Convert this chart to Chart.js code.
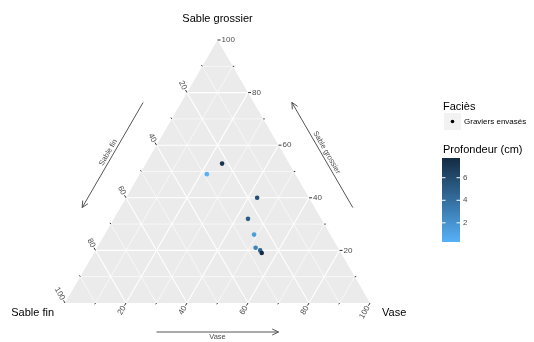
<!DOCTYPE html>
<html>
<head>
<meta charset="utf-8">
<script src="https://cdn.jsdelivr.net/npm/chart.js@4.4.1/dist/chart.umd.min.js"></script>
<style>
  body { margin: 0; background: #fff; }
  #wrap { width: 534px; height: 342px; position: relative; }
</style>
</head>
<body>
<div id="wrap"><canvas id="tern"></canvas></div>
<script>
// Compositions (%)
const sableFin      = [22, 29, 17, 24, 25, 27, 26, 26];
const sableGrossier = [53, 49, 40, 32, 26, 21, 20, 19];
const vase          = [25, 22, 43, 44, 49, 52, 54, 55];
const profondeur    = [7.2, 0.3, 5.8, 5.0, 1.4, 2.8, 4.6, 7.75];

const majorTicks = [20, 40, 60, 80, 100];
const minorTicks = [10, 30, 50, 70, 90];
const gridLevels = [10, 20, 30, 40, 50, 60, 70, 80, 90];
const depthTicks = [2, 4, 6];

const H = Math.sqrt(3) / 2;
const LOW = [0x56, 0xB1, 0xF7], HIGH = [0x13, 0x2B, 0x43];
const dMin = Math.min(...profondeur), dMax = Math.max(...profondeur);
const FONT = '"Liberation Sans", Arial, sans-serif';

// ternary -> cartesian (fin at left corner, vase at right, grossier on top)
function toXY(f, g, v) {
  const s = f + g + v;
  return {x: (v + g / 2) / s, y: (g / s) * H};
}

function depthColor(d) {
  const t = (d - dMin) / (dMax - dMin);
  const c = LOW.map((lo, i) => Math.round(lo + (HIGH[i] - lo) * t));
  return `rgb(${c[0]},${c[1]},${c[2]})`;
}

const points = vase.map((v, i) => toXY(sableFin[i], sableGrossier[i], v));

// grid lines as line datasets
const gridSets = [];
gridLevels.forEach(l => {
  const p = l / 100, q = 1 - p;
  const major = l % 20 === 0;
  const segs = [
    [toXY(q, p, 0), toXY(0, p, q)],   // constant grossier
    [toXY(q, 0, p), toXY(0, q, p)],   // constant vase
    [toXY(p, q, 0), toXY(p, 0, q)]    // constant fin
  ];
  segs.forEach(s => gridSets.push({
    type: 'scatter', data: s, showLine: true, pointRadius: 0,
    borderColor: '#FFFFFF', borderWidth: major ? 1.1 : 0.6,
    order: 2, clip: false
  }));
});

const ternaryPlugin = {
  id: 'ternaryDecor',
  afterDatasetsDraw(chart) {
    const {ctx, scales: {x, y}} = chart;
    const px = p => ({x: x.getPixelForValue(p.x), y: y.getPixelForValue(p.y)});
    ctx.save();

    // ticks + tick labels
    const edges = [
      {pt: t => toXY(0, t, 1 - t), dir: [1, 0], rot: 0, align: 'left'},            // grossier (right edge)
      {pt: t => toXY(t, 1 - t, 0), dir: [-0.5, -H], rot: Math.PI / 3, align: 'right'}, // fin (left edge)
      {pt: t => toXY(1 - t, 0, t), dir: [-0.5, H], rot: -Math.PI / 3, align: 'right'}  // vase (bottom)
    ];
    ctx.strokeStyle = '#333333';
    ctx.lineWidth = 1;
    edges.forEach(e => {
      minorTicks.forEach(t => {
        const a = px(e.pt(t / 100));
        ctx.beginPath();
        ctx.moveTo(a.x, a.y);
        ctx.lineTo(a.x + e.dir[0] * 1.5, a.y + e.dir[1] * 1.5);
        ctx.stroke();
      });
      majorTicks.forEach(t => {
        const a = px(e.pt(t / 100));
        ctx.beginPath();
        ctx.moveTo(a.x, a.y);
        ctx.lineTo(a.x + e.dir[0] * 3, a.y + e.dir[1] * 3);
        ctx.stroke();
        ctx.save();
        ctx.translate(a.x + e.dir[0] * 4, a.y + e.dir[1] * 4);
        ctx.rotate(e.rot);
        ctx.fillStyle = '#4D4D4D';
        ctx.font = '8px ' + FONT;
        ctx.textAlign = e.align;
        ctx.textBaseline = 'middle';
        ctx.fillText(String(t), 0, 0);
        ctx.restore();
      });
    });

    // direction arrows, offset outside each edge
    function arrow(p0, p1, n, off, label, rot) {
      const a = px(p0), b = px(p1);
      a.x += n[0] * off; a.y += n[1] * off;
      b.x += n[0] * off; b.y += n[1] * off;
      ctx.strokeStyle = '#555555';
      ctx.lineWidth = 1;
      ctx.beginPath();
      ctx.moveTo(a.x, a.y);
      ctx.lineTo(b.x, b.y);
      const ang = Math.atan2(b.y - a.y, b.x - a.x);
      ctx.moveTo(b.x - 7 * Math.cos(ang - 0.45), b.y - 7 * Math.sin(ang - 0.45));
      ctx.lineTo(b.x, b.y);
      ctx.lineTo(b.x - 7 * Math.cos(ang + 0.45), b.y - 7 * Math.sin(ang + 0.45));
      ctx.stroke();
      ctx.save();
      ctx.translate((a.x + b.x) / 2 + n[0] * 5, (a.y + b.y) / 2 + n[1] * 5);
      ctx.rotate(rot);
      ctx.fillStyle = '#4D4D4D';
      ctx.font = '7.5px ' + FONT;
      ctx.textAlign = 'center';
      ctx.textBaseline = 'middle';
      ctx.fillText(label, 0, 0);
      ctx.restore();
    }
    arrow(toXY(0.3, 0.7, 0), toXY(0.7, 0.3, 0), [-H, -0.5], 33, 'Sable fin', -Math.PI / 3);
    arrow(toXY(0, 0.3, 0.7), toXY(0, 0.7, 0.3), [H, -0.5], 33, 'Sable grossier', Math.PI / 3);
    arrow(toXY(0.7, 0, 0.3), toXY(0.3, 0, 0.7), [0, 1], 29, 'Vase', 0);

    // corner titles
    ctx.fillStyle = '#000000';
    ctx.font = '11px ' + FONT;
    ctx.textBaseline = 'middle';
    const top = px(toXY(0, 1, 0)), bl = px(toXY(1, 0, 0)), br = px(toXY(0, 0, 1));
    ctx.textAlign = 'center';
    ctx.fillText('Sable grossier', top.x, top.y - 21);
    ctx.textAlign = 'right';
    ctx.fillText('Sable fin', bl.x - 11, bl.y + 10);
    ctx.textAlign = 'left';
    ctx.fillText('Vase', br.x + 12, br.y + 10);

    // legend: Faciès
    ctx.fillText('Faciès', 443, 107);
    ctx.fillStyle = '#F2F2F2';
    ctx.fillRect(444, 113, 17, 17);
    ctx.fillStyle = '#000000';
    ctx.beginPath();
    ctx.arc(452.5, 121.5, 1.8, 0, Math.PI * 2);
    ctx.fill();
    ctx.font = '8px ' + FONT;
    ctx.fillText('Graviers envasés', 464, 121.5);

    // legend: colour bar
    ctx.font = '11px ' + FONT;
    ctx.fillText('Profondeur (cm)', 443, 150);
    const barX = 442, barW = 18, barTop = 158, barBot = 242;
    const grad = ctx.createLinearGradient(0, barBot, 0, barTop);
    grad.addColorStop(0, depthColor(dMin));
    grad.addColorStop(0.5, depthColor((dMin + dMax) / 2));
    grad.addColorStop(1, depthColor(dMax));
    ctx.fillStyle = grad;
    ctx.fillRect(barX, barTop, barW, barBot - barTop);
    ctx.font = '8px ' + FONT;
    depthTicks.forEach(d => {
      const yy = barBot - (d - dMin) / (dMax - dMin) * (barBot - barTop);
      ctx.strokeStyle = '#FFFFFF';
      ctx.lineWidth = 1;
      ctx.beginPath();
      ctx.moveTo(barX, yy); ctx.lineTo(barX + 3.5, yy);
      ctx.moveTo(barX + barW - 3.5, yy); ctx.lineTo(barX + barW, yy);
      ctx.stroke();
      ctx.fillStyle = '#4D4D4D';
      ctx.fillText(String(d), barX + barW + 3, yy);
    });
    ctx.restore();
  }
};

const chart = new Chart(document.getElementById('tern'), {
  type: 'scatter',
  data: {
    datasets: [
      {
        label: 'Graviers envasés',
        data: points,
        pointRadius: 2.3,
        pointBorderWidth: 0,
        pointBackgroundColor: profondeur.map(depthColor),
        order: 0,
        clip: false
      },
      ...gridSets,
      {
        type: 'scatter',
        data: [toXY(1, 0, 0), toXY(0, 1, 0), toXY(0, 0, 1)],
        showLine: true,
        fill: 'origin',
        backgroundColor: '#EBEBEB',
        borderWidth: 0,
        pointRadius: 0,
        order: 3,
        clip: false
      }
    ]
  },
  options: {
    responsive: true,
    maintainAspectRatio: false,
    animation: false,
    layout: {padding: {left: 65, right: 164, top: 40, bottom: 39}},
    plugins: {legend: {display: false}, tooltip: {enabled: false}},
    scales: {
      x: {type: 'linear', min: 0, max: 1, display: false},
      y: {type: 'linear', min: 0, max: H, display: false}
    }
  },
  plugins: [ternaryPlugin]
});
</script>
</body>
</html>
